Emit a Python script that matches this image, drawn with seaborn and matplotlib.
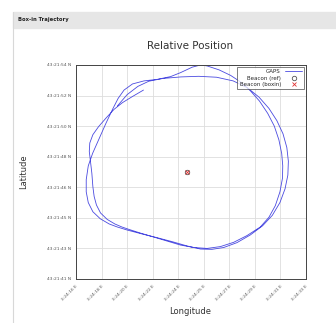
import numpy as np
import pandas as pd
import matplotlib
matplotlib.use("Agg")
import matplotlib.pyplot as plt
import seaborn as sns

# tick labels (gnuplot style DMS labels)
lon_labels = ["3:24:16 E", "3:24:18 E", "3:24:20 E", "3:24:22 E", "3:24:24 E",
              "3:24:25 E", "3:24:27 E", "3:24:29 E", "3:24:31 E", "3:24:33 E"]
lat_labels = ["43:21:41 N", "43:21:43 N", "43:21:45 N", "43:21:46 N",
              "43:21:48 N", "43:21:50 N", "43:21:52 N", "43:21:54 N"]

# GAPS track, in tick-index units
gaps_x = [2.64, 2.21, 1.82, 1.49, 1.17, 0.88, 0.66, 0.54, 0.52, 0.56, 0.62, 0.66, 0.71,
          0.80, 0.96, 1.22, 1.52, 1.80, 2.08, 2.53, 3.05, 3.57, 4.09, 4.61, 5.13, 5.65,
          6.17, 6.69, 7.21, 7.55, 7.80, 7.98, 8.08, 8.09, 8.05, 7.94, 7.76, 7.50, 7.18,
          6.82, 6.45, 6.05, 5.60, 5.13, 4.87, 4.55, 4.09, 3.70, 3.18, 2.66, 2.21, 1.88,
          1.65, 1.43, 1.17, 0.91, 0.65, 0.48, 0.40, 0.40, 0.48, 0.66, 0.95, 1.30, 1.62,
          2.01, 2.60, 3.18, 3.77, 4.35, 4.87, 5.32, 5.78, 6.30, 6.82, 7.30, 7.68, 7.98,
          8.18, 8.29, 8.31, 8.25, 8.10, 7.86, 7.55, 7.16, 6.70, 6.15, 5.50, 4.80, 4.10,
          3.40, 2.85, 2.42, 2.00, 1.62]
gaps_y = [6.18, 5.97, 5.77, 5.55, 5.26, 4.98, 4.72, 4.45, 4.17, 3.89, 3.46, 3.02, 2.70,
          2.42, 2.16, 1.95, 1.80, 1.70, 1.62, 1.50, 1.37, 1.24, 1.11, 1.03, 1.00, 1.06,
          1.20, 1.42, 1.70, 2.02, 2.40, 2.85, 3.30, 3.70, 4.10, 4.55, 5.00, 5.42, 5.82,
          6.16, 6.44, 6.66, 6.84, 6.97, 7.00, 6.93, 6.75, 6.62, 6.53, 6.48, 6.38, 6.18,
          5.91, 5.55, 5.09, 4.60, 4.11, 3.70, 3.25, 2.85, 2.50, 2.20, 1.97, 1.80, 1.70,
          1.60, 1.47, 1.35, 1.22, 1.08, 0.98, 0.97, 1.03, 1.19, 1.44, 1.74, 2.08, 2.50,
          2.95, 3.40, 3.85, 4.30, 4.75, 5.18, 5.58, 5.95, 6.26, 6.48, 6.60, 6.63, 6.61,
          6.56, 6.47, 6.30, 6.03, 5.66]

beacon_ref = (4.36, 3.51)
beacon_boxin = (4.36, 3.51)

df = pd.DataFrame({"lon": gaps_x, "lat": gaps_y})

sns.set_style("white")
fig = plt.figure(figsize=(3.36, 3.23), dpi=100)

# panel header
fig.patches.append(plt.Rectangle((13 / 336, 1 - 28 / 323), 1, 16 / 323,
                                 transform=fig.transFigure, color="#e6e6e6", zorder=0))
fig.lines.append(plt.Line2D([13 / 336, 13 / 336], [0, 1 - 12 / 323],
                            transform=fig.transFigure, color="#d8d8d8", lw=0.8))
fig.text(18 / 336, 1 - 20 / 323, "Box-in Trajectory", fontsize=3.8,
         fontweight="bold", va="center", color="#222222")

fig.text(190 / 336, 1 - 46 / 323, "Relative Position", fontsize=7.5,
         ha="center", va="center", color="#333333")
fig.text(190 / 336, 1 - 312 / 323, "Longitude", fontsize=6,
         ha="center", va="center", color="#333333")
fig.text(24 / 336, 1 - 172 / 323, "Latitude", fontsize=6, rotation=90,
         ha="center", va="center", color="#333333")

ax = fig.add_axes([76 / 336, 44 / 323, 230 / 336, 214 / 323])
sns.lineplot(data=df, x="lon", y="lat", sort=False, estimator=None,
             color="#4a4ae0", lw=0.6, ax=ax, label="GAPS")
ax.plot([beacon_ref[0]], [beacon_ref[1]], "o", mfc="none", mec="#555555",
        ms=3.2, mew=0.6, ls="none", label="Beacon (ref)")
ax.plot([beacon_boxin[0]], [beacon_boxin[1]], "x", color="#e03030",
        ms=3.2, mew=0.6, ls="none", label="Beacon (boxin)")

ax.set_xlim(0, 9)
ax.set_ylim(0, 7)
ax.set_xticks(range(len(lon_labels)))
ax.set_xticklabels(lon_labels, rotation=45, ha="right", rotation_mode="anchor")
ax.set_yticks(range(len(lat_labels)))
ax.set_yticklabels(lat_labels)
ax.tick_params(labelsize=3.2, colors="#555555", direction="in", length=3, width=0.6)
ax.set_xlabel("")
ax.set_ylabel("")
ax.grid(True, color="#dddddd", lw=0.6)
for s in ax.spines.values():
    s.set_color("#444444")
    s.set_linewidth(0.7)

leg = ax.legend(loc="upper right", fontsize=4, markerfirst=False, frameon=True,
                fancybox=False, edgecolor="#444444", handlelength=3,
                borderpad=0.4, labelspacing=0.3, borderaxespad=0.3)
leg.get_frame().set_linewidth(0.6)

fig.savefig("out.png", dpi=100)
